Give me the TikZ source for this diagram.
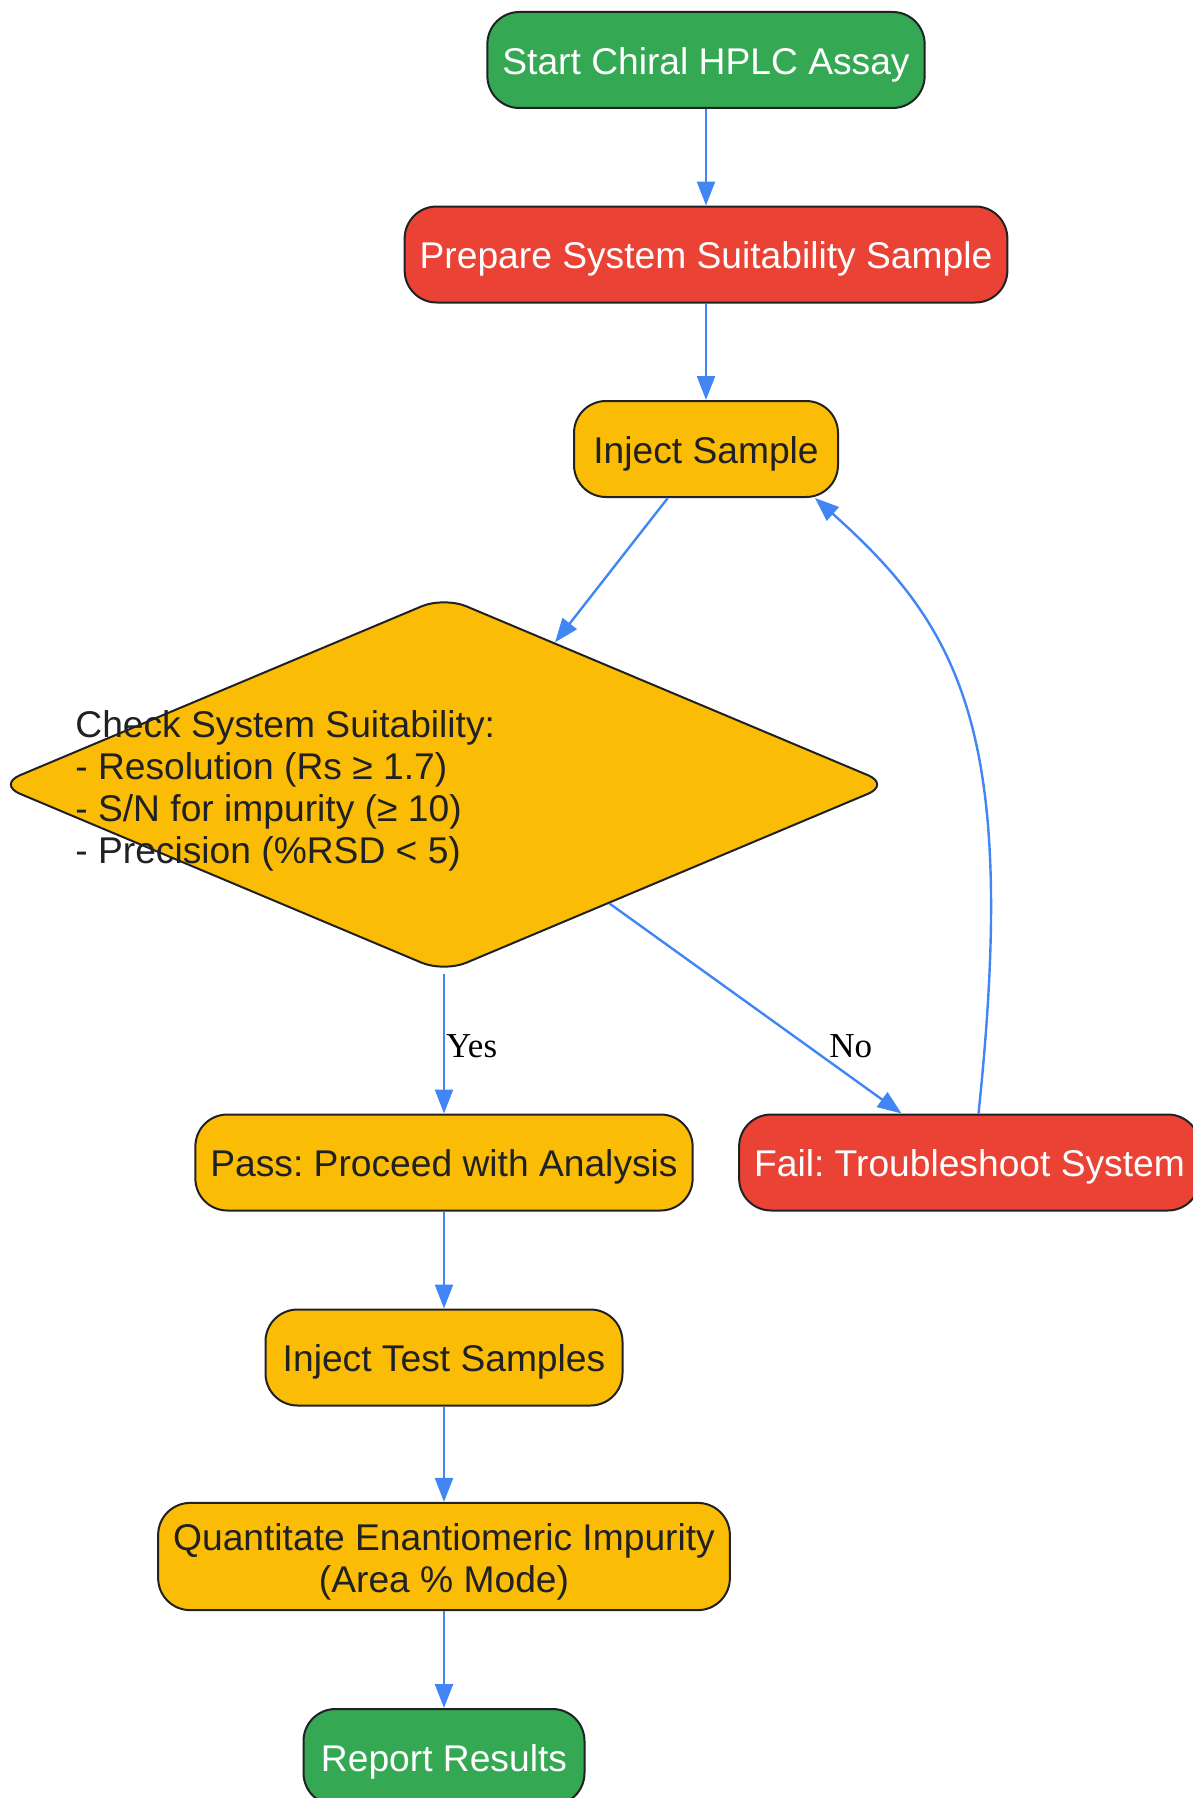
\documentclass[tikz,border=0pt]{standalone}
\usepackage{fontspec}
\setmainfont{Liberation Sans}
\newfontfamily\edgefont{Liberation Serif}
\usepackage{tikz}
\usetikzlibrary{arrows.meta, shapes.geometric, positioning}
\definecolor{stepgreen}{HTML}{34A853}
\definecolor{stepred}{HTML}{EA4335}
\definecolor{stepyellow}{HTML}{FBBC05}
\definecolor{flowblue}{HTML}{4285F4}
\definecolor{inkgray}{HTML}{202124}

\begin{document}
\frenchspacing
\begin{tikzpicture}[x=0.5pt, y=0.5pt,
	box/.style={draw=inkgray, line width=1pt, rounded corners=16pt, minimum height=48pt, inner xsep=7.5pt, inner ysep=7pt, text height=16pt, text depth=1.6pt, align=center, font=\fontsize{18.6pt}{21pt}\selectfont},
	greenbox/.style={box, fill=stepgreen, text=white},
	redbox/.style={box, fill=stepred, text=white},
	yellowbox/.style={box, fill=stepyellow, text=inkgray},
	flow/.style={draw=flowblue, line width=1.2pt, -{Triangle[length=12pt, width=9pt]}},
	edgelabel/.style={font=\edgefont\fontsize{17.5pt}{20pt}\selectfont, inner sep=2pt}]
				\useasboundingbox (0,0) rectangle (1193,-1798);
				%% main column
				\node[greenbox] (start) at (706,-60) {Start Chiral HPLC Assay};
				\node[redbox] (prepare) at (706,-254.5) {Prepare System Suitability Sample};
				\node[yellowbox, minimum width=132pt] (inject) at (706,-449) {Inject Sample};
				
				\node[diamond, draw=inkgray, line width=1pt, fill=stepyellow, rounded corners=12pt, minimum width=446.5pt, minimum height=188pt, inner sep=0pt] (check) at (444,-784.5) {};
				\node[anchor=west, align=left, inner sep=0pt, text=inkgray, font=\fontsize{18.6pt}{21pt}\selectfont] (checktext) at (75,-791) {Check System Suitability:\\- Resolution (Rs ≥ 1.7)\\- S/N for impurity (≥ 10)\\- Precision (\%RSD < 5)};
				
				\node[yellowbox, minimum width=247pt] (pass) at (444,-1162.5) {Pass: Proceed with Analysis};
				\node[redbox] (fail) at (969.5,-1162.5) {Fail: Troubleshoot System};
				\node[yellowbox, minimum width=178.5pt] (injecttest) at (444,-1357.5) {Inject Test Samples};
				\node[yellowbox, text height=38pt] (quant) at (444,-1556.5) {Quantitate Enantiomeric Impurity\\(Area \% Mode)};
				\node[greenbox, minimum width=140.5pt] (report) at (444,-1757) {Report Results};
				
				%% connectors
				\draw[flow] (start) -- (prepare);
				\draw[flow] (prepare) -- (inject);
				\draw[flow] (inject) -- (check);
				\draw[flow] (check) -- node[edgelabel, midway, anchor=west, xshift=-1.5pt, yshift=-1.5pt] (yes) {Yes} (pass);
				\draw[flow] (check) -- node[edgelabel, pos=0.68, anchor=west, xshift=8pt] (no) {No} (fail);
				\draw[flow] ([xshift=4.5pt]fail.north) .. controls (1018,-737) and (963,-630) .. ([xshift=-12pt]inject.south east);
				\draw[flow] (pass) -- (injecttest);
				\draw[flow] (injecttest) -- (quant);
				\draw[flow] (quant) -- (report);
\end{tikzpicture}
\end{document}
